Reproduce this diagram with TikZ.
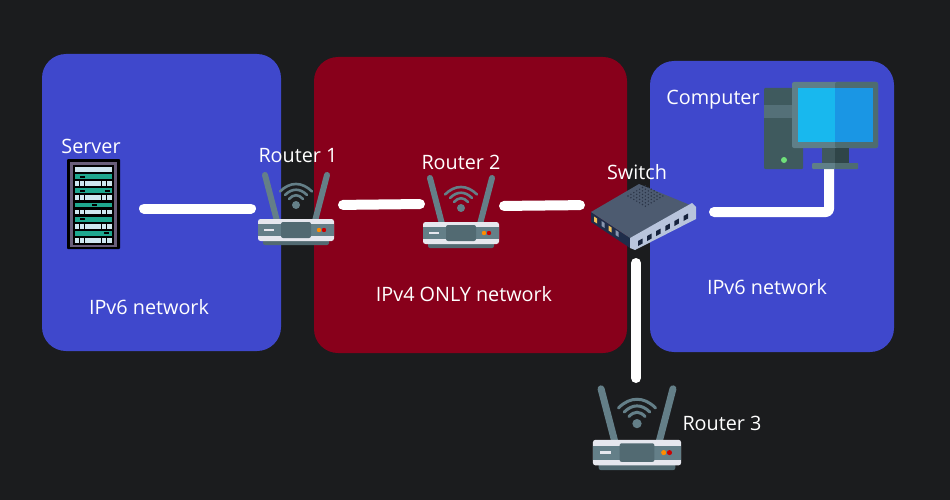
\documentclass[tikz,border=0pt]{standalone}
\usepackage{fontspec}
\setmainfont{Open Sans}
\usetikzlibrary{calc}
\definecolor{bgc}{HTML}{1B1C1E}
\definecolor{panelblue}{HTML}{3F48CC}
\definecolor{panelred}{HTML}{88001B}
\definecolor{rgrey}{HTML}{647F88}
\definecolor{rdark}{HTML}{526A72}
\definecolor{rlight}{HTML}{E6E7EE}
\definecolor{srvteal}{HTML}{1FA88F}
\definecolor{srvlight}{HTML}{CFE8F0}
\definecolor{srvframe}{HTML}{6A5F7A}
\definecolor{swtop}{HTML}{4D5B70}
\definecolor{swside}{HTML}{1F2D4A}
\definecolor{swplate}{HTML}{B8C4DC}
\definecolor{swport}{HTML}{16223C}
\definecolor{swvent}{HTML}{2A3446}
\definecolor{swyellow}{HTML}{F2C25C}
\definecolor{swgrey}{HTML}{8A97B0}
\definecolor{pctower}{HTML}{3F5A5E}
\definecolor{pcband}{HTML}{547078}
\definecolor{pcframel}{HTML}{5F7F88}
\definecolor{pcframer}{HTML}{4E6C70}
\definecolor{pcscrl}{HTML}{18B8EE}
\definecolor{pcscrr}{HTML}{1A96E4}
\definecolor{pcneckl}{HTML}{40585C}
\definecolor{pcneckr}{HTML}{2F4548}
\definecolor{pcled}{HTML}{6FE07A}
\tikzset{
  x=1pt,y=-1pt,
  panel/.style={rounded corners=24pt,minimum width=#1,inner sep=0pt,outer sep=0pt},
  iconbox/.style={inner sep=0pt,outer sep=0pt},
  link/.style={draw=white,line width=10pt,line cap=round,line join=round},
  lbl/.style={text=white,font=\fontsize{19.8}{22}\selectfont,inner sep=0pt},
}
\newcommand{\routericon}[2]{%
  \begin{scope}[shift={(#1)},scale=#2]
    \draw[rgrey,line width=#2*6pt,line cap=round] (-31,-70) -- (-19,-24);
    \draw[rgrey,line width=#2*6pt,line cap=round] (31,-70) -- (19,-24);
    \draw[rgrey,line width=#2*2.6pt,line cap=round] (-16,-53.5) .. controls (-6,-63.5) and (6,-63.5) .. (16,-53.5);
    \draw[rgrey,line width=#2*2.6pt,line cap=round] (-11,-50) .. controls (-4,-57) and (4,-57) .. (11,-50);
    \draw[rgrey,line width=#2*2.6pt,line cap=round] (-7,-46) .. controls (-2.5,-51) and (2.5,-51) .. (7,-46);
    \fill[rgrey] (0,-40) circle (4);
    \fill[rdark,rounded corners=2pt] (-33,-10) rectangle (33,0);
    \fill[rlight,rounded corners=2.5pt] (-38,-26) rectangle (38,-4);
    \fill[rgrey] (-38,-21) rectangle (38,-9);
    \fill[rdark,rounded corners=2pt] (-15,-23) rectangle (15,-7);
    \fill[rlight] (-32,-16) rectangle (-22,-14);
    \fill[orange!90!yellow] (23,-15) circle (2.2);
    \fill[red!80!black] (28,-15) circle (2.2);
  \end{scope}}
\begin{document}
\begin{tikzpicture}
\useasboundingbox (0,0) rectangle (950,500);
\fill[bgc] (0,0) rectangle (950,500);

% panels
\node[panel=239pt,fill=panelblue,minimum height=297pt] (netA) at (161.5,202.5) {};
\node[panel=313pt,fill=panelred,minimum height=296pt] (netB) at (470.5,205) {};
\node[panel=244pt,fill=panelblue,minimum height=291pt] (netC) at (772,206.5) {};

% icon boxes
\node[iconbox,minimum width=53pt,minimum height=90pt] (server) at (93.5,204) {};
\node[iconbox,minimum width=76pt,minimum height=73pt] (router1) at (296,208.5) {};
\node[iconbox,minimum width=76pt,minimum height=73pt] (router2) at (461,211.5) {};
\node[iconbox,minimum width=105pt,minimum height=66pt] (switch) at (643.5,217) {};
\node[iconbox,minimum width=114pt,minimum height=87pt] (computer) at (821,125.5) {};
\node[iconbox,minimum width=88pt,minimum height=83pt] (router3) at (637,428.5) {};

% connectors
\draw[link,shorten <=24pt,shorten >=7pt] (server.east |- router1.west) -- (router1.west);
\draw[link,shorten <=9pt,shorten >=3pt] (router1.east |- 0,205) -- (router2.west |- 0,204);
\draw[link,shorten <=5pt,shorten >=11pt] (router2.east |- 0,206) -- (switch.west |- 0,205);
\draw[link,shorten <=13pt,shorten >=9pt] (switch.south -| 636,0) -- (router3.north -| 636,0);
\draw[link,rounded corners=3pt,shorten <=18pt,shorten >=0pt] (switch.east |- 0,212) -- (829,212) -- (829,172) -- (computer.south -| 829,0);

% server
\fill[black,rounded corners=1pt] (67,159) rectangle (120,249);
\fill[srvframe] (70,162) rectangle (117,247);
\fill[black] (73,165) rectangle (114,245);
\foreach \i in {0,2,4,6,8,10}{
  \fill[srvlight] (75,{167*1+7.1*\i}) rectangle (112,{171.8+7.1*\i});
}
\foreach \i in {1,3,5,7,9}{
  \fill[srvteal] (75,{167*1+7.1*\i}) rectangle (112,{171.8+7.1*\i});
}
\foreach \xx/\yy in {80/175.5,80/189.5,105/189.5,92/204,80/217.5,104/232}{
  \fill[black] (\xx,\yy) rectangle +(5,2);
}
\foreach \yy in {181.2,195.4,209.6,223.8,238}{
  \foreach \xx in {79,84,106,101}{
    \fill[black] (\xx,\yy) rectangle +(1.2,4.8);
  }
}

% routers
\routericon{router1.south}{1}
\routericon{router2.south}{1}
\routericon{router3.south}{1.16}

% switch
\fill[swside] (591,212) -- (630,238) -- (630,248) -- (591,222) -- cycle;
\fill[swtop] (591,212) -- (639,184) -- (690,205) -- (630,238) -- cycle;
\fill[swplate] (630,238) -- (692,203) -- (696,207) -- (696,219) -- (635,250) -- (630,248) -- cycle;
\foreach \t in {0,1,2,3,4,5}{
  \fill[swport] ({638+\t*9.1},{241-\t*5}) -- ++(4.5,-2.5) -- ++(0,5) -- ++(-4.5,2.5) -- cycle;
}
\fill[swyellow] (594,216.5) -- ++(3,2) -- ++(0,5) -- ++(-3,-2) -- cycle;
\fill[swgrey] (601.5,221) -- ++(3,2) -- ++(0,5) -- ++(-3,-2) -- cycle;
\fill[swyellow] (608.5,225.5) -- ++(3,2) -- ++(0,5) -- ++(-3,-2) -- cycle;
\fill[swgrey] (615.5,230) -- ++(3,2) -- ++(0,5) -- ++(-3,-2) -- cycle;
\foreach \a in {0,...,6}{
  \foreach \b in {0,...,6}{
    \fill[swvent] ({628+\a*2.9+\b*2.9},{196+\a*1.7-\b*1.7}) circle (0.8);
  }
}

% computer
\fill[pctower,rounded corners=1pt] (764,88) rectangle (803,169);
\fill[pcband] (764,105) rectangle (792,118);
\fill[pcled] (784,160) circle (3);
\fill[pcframel,rounded corners=2pt] (792,82) rectangle (878,148);
\fill[pcframer,rounded corners=2pt] (835,82) rectangle (878,148);
\fill[pcscrl] (798,88) rectangle (835,142);
\fill[pcscrr] (835,88) rectangle (873,142);
\fill[pcneckl] (822,148) rectangle (835,163);
\fill[pcneckr] (835,148) rectangle (849,163);
\fill[pcframel,rounded corners=1pt] (812,163) rectangle (858,169);
\fill[pcframer] (835,163) rectangle (858,169);

% labels
\node[lbl] (lserver) at (91,146) {Server};
\node[lbl] (lr1) at (298,156) {Router 1};
\node[lbl] (lr2) at (461,162) {Router 2};
\node[lbl] (lsw) at (637,172) {Switch};
\node[lbl] (lcomp) at (713,100) {Computer};
\node[lbl] (lr3) at (722,423) {Router 3};
\node[lbl] (lnetA) at (149,307) {IPv6 network};
\node[lbl] (lnetB) at (464,294) {IPv4 ONLY network};
\node[lbl] (lnetC) at (767,287) {IPv6 network};
\end{tikzpicture}
\end{document}
